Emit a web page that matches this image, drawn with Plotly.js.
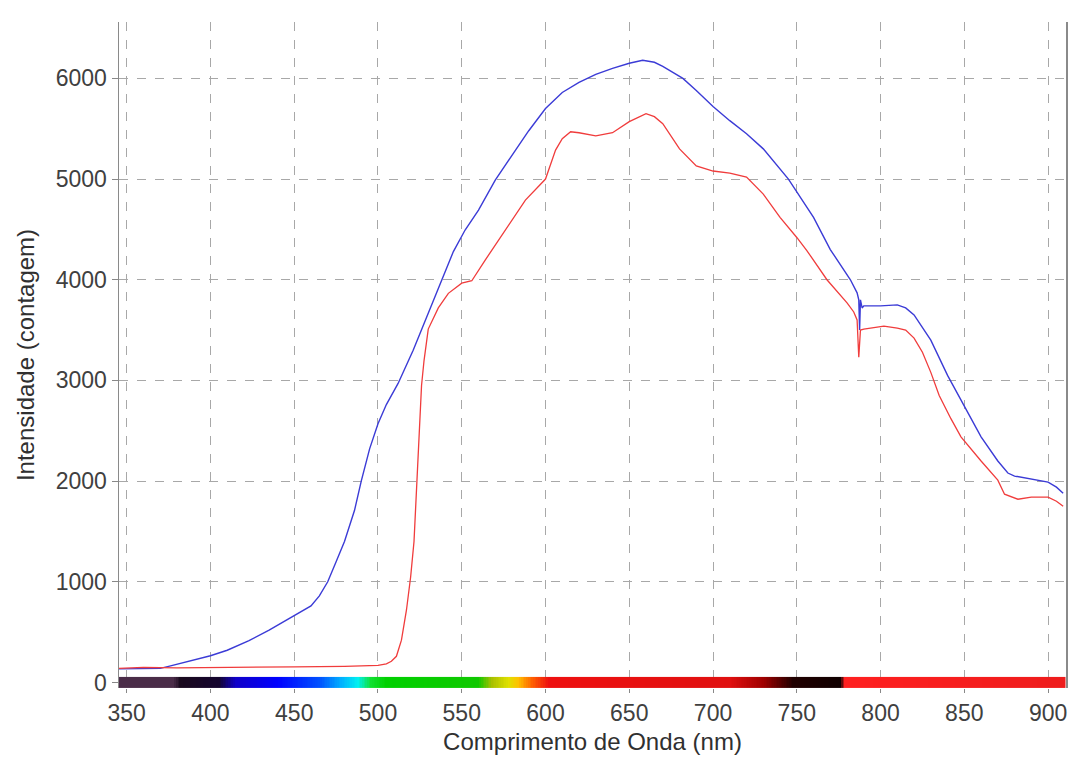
<!DOCTYPE html>
<html>
<head>
<meta charset="utf-8">
<script src="https://cdn.plot.ly/plotly-3.0.1.min.js"></script>
<style>
html,body{margin:0;padding:0;background:#fff;}
#chart{width:1073px;height:758px;}
</style>
</head>
<body>
<div id="chart"></div>
<script>
// Blue spectrum (wavelength nm, intensity counts)
const wlBlue = [345, 360, 370, 375, 385, 400, 410, 423, 435, 450, 460, 465, 470, 475, 480, 486, 490, 495, 500, 505, 512, 521, 530, 538, 545, 552, 560, 570, 582, 590, 600, 610, 620, 630, 640, 650, 658, 665, 670, 682, 690, 700, 710, 720, 730, 745, 760, 770, 782, 786, 787, 787.5, 788, 789, 790, 800, 810, 815, 820, 830, 840, 848, 860, 870, 876, 880, 890, 900, 905, 909];
const intBlue = [135, 135, 140, 160, 200, 265, 320, 415, 520, 660, 760, 860, 1000, 1200, 1400, 1710, 2000, 2320, 2570, 2760, 2970, 3300, 3666, 4000, 4280, 4494, 4692, 4990, 5288, 5480, 5700, 5860, 5960, 6040, 6100, 6150, 6180, 6160, 6120, 6000, 5880, 5720, 5580, 5450, 5300, 5000, 4620, 4300, 4000, 3870, 3800, 3500, 3800, 3720, 3740, 3740, 3750, 3720, 3650, 3400, 3050, 2800, 2440, 2200, 2080, 2050, 2020, 1990, 1940, 1880];

// Red spectrum
const wlRed = [345, 360, 380, 400, 420, 450, 480, 495, 500, 505, 508, 511, 514, 517, 519.5, 521.5, 523, 524.5, 526, 527.5, 530, 536, 542, 550, 556, 564, 576, 588, 600, 606, 610, 615, 620, 630, 640, 650, 660, 665, 670, 675, 680, 690, 700, 710, 720, 730, 740, 750, 756, 768, 780, 784, 786, 787, 787.5, 788, 790, 802, 810, 815, 820, 825, 830, 835, 842, 848, 860, 870, 874, 882, 890, 900, 905, 909];
const intRed = [140, 150, 145, 150, 150, 155, 160, 165, 170, 185, 210, 260, 420, 720, 1050, 1400, 1900, 2500, 2950, 3200, 3510, 3720, 3865, 3966, 3990, 4195, 4494, 4791, 5000, 5288, 5400, 5470, 5460, 5430, 5460, 5570, 5650, 5620, 5550, 5420, 5300, 5130, 5080, 5060, 5020, 4850, 4620, 4420, 4290, 4000, 3770, 3680, 3600, 3230, 3450, 3500, 3510, 3540, 3520, 3500, 3420, 3280, 3080, 2850, 2620, 2440, 2200, 2010, 1870, 1820, 1840, 1840, 1800, 1750];

// Visible-spectrum colour band along the x axis
const bandWl = [345, 378, 382, 405, 415, 440, 465, 478, 488, 496, 505, 560, 568, 578, 584, 592, 602, 710, 730, 748, 776, 779, 910];
const bandColor = ['#4a2c48', '#4a2c48', '#1a0a1e', '#14042e', '#1000c8', '#0000ff', '#0050ff', '#00b0ff', '#00f0f0', '#10e030', '#00d000', '#10c800', '#a8c000', '#e0e000', '#ffc000', '#ff6000', '#ee1010', '#e01010', '#a00000', '#200000', '#100000', '#ff2020', '#ee1c1c'];

const xTicks = [350, 400, 450, 500, 550, 600, 650, 700, 750, 800, 850, 900];
const yTicks = [0, 1000, 2000, 3000, 4000, 5000, 6000];

const wMin = bandWl[0], wMax = bandWl[bandWl.length - 1];
const colorscale = bandWl.map((w, i) => [(w - wMin) / (wMax - wMin), bandColor[i]]);
const barX = [];
for (let w = wMin; w <= wMax; w += 1) barX.push(w);

const band = {
  type: 'heatmap',
  x: barX,
  y: [-27.5, 27.5],
  z: [barX, barX],
  zmin: wMin, zmax: wMax,
  colorscale: colorscale,
  showscale: false,
  hoverinfo: 'skip'
};

const blue = {
  type: 'scatter', mode: 'lines',
  x: wlBlue, y: intBlue,
  line: {color: '#3b3bd6', width: 1.4},
  showlegend: false
};
const red = {
  type: 'scatter', mode: 'lines',
  x: wlRed, y: intRed,
  line: {color: '#f03c3c', width: 1.3},
  showlegend: false
};

const font = 'Liberation Sans, Arial, sans-serif';

const layout = {
  width: 1073, height: 758,
  margin: {l: 119, r: 7, t: 22, b: 70},
  paper_bgcolor: '#ffffff',
  plot_bgcolor: '#ffffff',
  font: {family: font, color: '#333333'},
  showlegend: false,
  xaxis: {
    range: [345.4, 910.7],
    tickvals: xTicks,
    ticktext: xTicks.map(String),
    ticks: 'outside', ticklen: 4, tickcolor: '#888888',
    tickfont: {family: font, size: 23, color: '#404040'},
    showgrid: true, gridcolor: '#a8a8a8', griddash: 'dash', gridwidth: 1,
    zeroline: false, showline: false,
    automargin: false,
    title: {text: 'Comprimento de Onda (nm)', font: {family: font, size: 24, color: '#303030'}, standoff: 8}
  },
  yaxis: {
    range: [-55, 6560],
    tickvals: yTicks,
    ticktext: yTicks.map(String),
    ticks: 'outside', ticklen: 6, tickcolor: '#888888',
    tickfont: {family: font, size: 23, color: '#404040'},
    showgrid: true, gridcolor: '#a8a8a8', griddash: 'dash', gridwidth: 1,
    zeroline: false,
    showline: true, linecolor: '#8a8a8a', linewidth: 1.5, mirror: true,
    automargin: false,
    title: {text: 'Intensidade (contagem)', font: {family: font, size: 24, color: '#303030'}, standoff: 14}
  }
};

Plotly.newPlot('chart', [band, blue, red], layout, {displayModeBar: false, staticPlot: true});
</script>
</body>
</html>
